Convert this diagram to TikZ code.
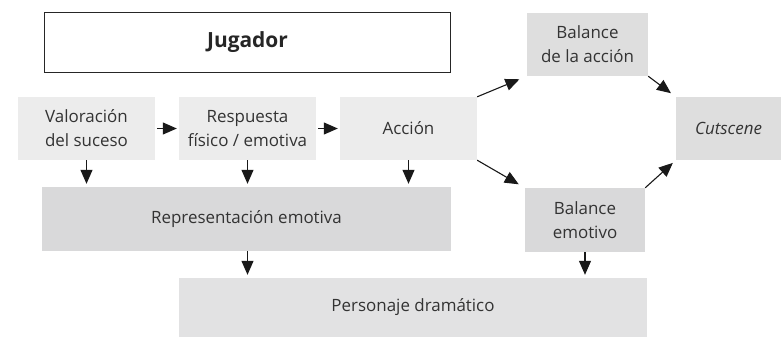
\documentclass[tikz,border=0pt]{standalone}
\usepackage{fontspec}
\setmainfont{Open Sans}
\usetikzlibrary{arrows.meta}
\definecolor{boxA}{HTML}{ECECEC}
\definecolor{boxB}{HTML}{DEDEDE}
\definecolor{boxC}{HTML}{D9D9DA}
\definecolor{boxD}{HTML}{E2E2E3}
\begin{document}
\begin{tikzpicture}[x=1bp,y=-1bp,
  box/.style={inner sep=0pt,align=center,font=\fontsize{17}{24}\selectfont\color{black!80}},
  arr/.style={-{Triangle[length=14bp,width=12bp]},line width=1.1bp,black!90},
]
\useasboundingbox (0,0) rectangle (781,338);
\fill[boxA] (18,97) rectangle (155,160);
\node[box,minimum width=137bp,minimum height=63bp] (val) at (86.5,128.5) {Valoración\\del suceso};
\fill[boxA] (179,97) rectangle (316,160);
\node[box,minimum width=137bp,minimum height=63bp] (resp) at (247.5,128.5) {Respuesta\\físico / emotiva};
\fill[boxA] (340,97) rectangle (477,160);
\node[box,minimum width=137bp,minimum height=63bp] (acc) at (408.5,128.5) {Acción};
\fill[boxB] (527,13) rectangle (648,76);
\node[box,minimum width=121bp,minimum height=63bp] (bacc) at (587.5,44.5) {Balance\\de la acción};
\fill[boxB] (676,97) rectangle (781,160);
\node[box,minimum width=105bp,minimum height=63bp] (cut) at (728.5,128.5) {\itshape Cutscene};
\fill[boxC] (42,187) rectangle (451,251);
\node[box,minimum width=409bp,minimum height=64bp] (rep) at (246.5,219) {Representación emotiva};
\fill[boxC] (525,188) rectangle (645,252);
\node[box,minimum width=120bp,minimum height=64bp] (bemo) at (585,220) {Balance\\emotivo};
\fill[boxD] (179,278) rectangle (647,337);
\node[box,minimum width=468bp,minimum height=59bp] (pers) at (413,307.5) {Personaje dramático};
\node[draw=black!85,line width=1bp,fill=white,minimum width=405bp,minimum height=60bp,inner sep=0pt,font=\fontsize{21}{24}\selectfont\bfseries\color{black!85}] (jug) at (247.5,42) {Jugador};
% arrows
\draw[arr] ([xshift=2bp]val.east) -- ([xshift=-2bp]resp.west);
\draw[arr] ([xshift=2bp]resp.east) -- ([xshift=-2bp]acc.west);
\draw[arr,shorten >=3bp] (val.south) -- (val.south |- rep.north);
\draw[arr,shorten >=3bp] (resp.south) -- (resp.south |- rep.north);
\draw[arr,shorten >=3bp] (acc.south) -- (acc.south |- rep.north);
\draw[arr,shorten >=3bp] (resp.south |- rep.south) -- (resp.south |- pers.north);
\draw[arr,shorten >=3bp] (bemo.south) -- (bemo.south |- pers.north);
\draw[arr,shorten >=8bp] (acc.north east) -- (bacc.south west);
\draw[arr,shorten >=6bp] (bacc.south east) -- (cut.north west);
\draw[arr,shorten >=7bp] (acc.south east) -- (bemo.north west);
\draw[arr,shorten >=4bp] (bemo.north east) -- (cut.south west);
\end{tikzpicture}
\end{document}
